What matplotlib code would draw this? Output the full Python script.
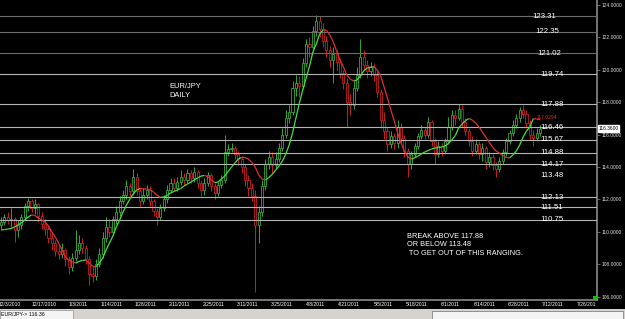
import matplotlib
matplotlib.use("Agg")
import matplotlib.pyplot as plt
from matplotlib.collections import LineCollection
from matplotlib.patches import Rectangle

plt.rcParams['font.family'] = ['Liberation Sans', 'DejaVu Sans']

# EUR/JPY daily candles
first_open = 110.4
closes = [110.6, 110.9, 110.7, 110.8, 110.1, 110.4, 110.9, 111.6, 111.9, 111.5,
          111.7, 111.0, 110.5, 110.2, 109.6, 109.3, 108.8, 108.6, 108.9, 108.3,
          107.8, 108.4, 108.9, 109.3, 109.0, 108.3, 107.4, 107.3, 108.0, 108.6,
          109.6, 110.3, 110.0, 110.8, 111.2, 111.9, 112.3, 112.8, 112.5, 113.4,
          112.5, 111.9, 112.3, 112.6, 111.9, 111.3, 110.9, 111.5, 112.0, 112.6,
          113.0, 112.7, 113.1, 113.4, 113.2, 113.6, 113.3, 113.7, 113.0, 112.6,
          113.0, 113.5, 112.8, 112.4, 112.9, 113.2, 114.9, 115.1, 115.2, 114.8,
          114.5, 114.0, 113.2, 112.7, 112.2, 110.4, 111.2, 112.8, 114.2, 114.6,
          114.1, 114.5, 115.2, 116.0, 117.0, 117.4, 118.9, 119.2, 119.0, 120.4,
          121.6, 121.4, 122.4, 123.0, 122.5, 121.8, 121.2, 120.6, 121.0, 120.5,
          119.8, 119.2, 118.0, 117.8, 118.9, 119.7, 120.8, 120.3, 119.9, 120.2,
          119.7, 118.6, 116.9, 116.2, 115.4, 115.9, 115.5, 116.5, 115.8, 115.0,
          114.2, 114.8, 115.3, 115.9, 116.3, 116.0, 116.8, 115.6, 114.8, 115.3,
          115.0, 115.6, 116.5, 117.2, 117.0, 117.6, 116.8, 116.2, 115.6, 115.0,
          115.4, 114.8, 115.2, 114.3, 114.6, 114.1, 113.9, 114.4, 114.9, 115.6,
          116.1, 116.6, 117.0, 117.5, 117.3, 116.7, 116.0, 115.8, 116.1, 116.36]
highs = [110.9, 111.1, 111.2, 111.5, 110.9, 110.7, 111.1, 111.8, 112.1, 112.0,
         112.0, 111.8, 111.2, 110.8, 110.4, 109.9, 109.5, 109.1, 109.3, 109.0,
         108.5, 108.7, 110.1, 109.8, 109.6, 109.2, 108.5, 107.9, 108.3, 109.0,
         110.0, 110.9, 110.8, 111.0, 111.6, 112.2, 112.6, 113.2, 113.0, 113.9,
         113.6, 112.7, 112.7, 112.9, 112.8, 112.0, 111.5, 111.7, 112.3, 112.9,
         113.3, 113.3, 113.4, 113.8, 113.6, 113.9, 113.8, 114.0, 113.8, 113.2,
         113.3, 113.7, 113.6, 113.0, 113.1, 113.5, 116.0, 115.4, 115.5, 115.3,
         115.0, 114.7, 114.2, 113.5, 113.0, 112.6, 111.6, 113.2, 114.5, 115.0,
         114.9, 114.9, 115.5, 116.4, 117.5, 117.8, 119.3, 119.7, 119.6, 120.7,
         121.9, 122.0, 122.7, 123.4, 123.35, 122.9, 122.1, 121.5, 121.4, 121.2,
         120.7, 120.0, 119.5, 118.5, 119.3, 120.2, 121.9, 121.2, 120.6, 120.5,
         120.4, 119.9, 118.8, 117.4, 116.5, 116.2, 116.1, 116.9, 116.7, 116.0,
         115.2, 115.0, 115.5, 116.1, 116.6, 116.5, 117.1, 116.9, 115.8, 115.6,
         115.5, 115.8, 117.1, 117.5, 117.5, 117.9, 117.8, 117.0, 116.4, 115.9,
         115.7, 115.6, 115.5, 115.3, 114.9, 114.8, 114.3, 114.6, 115.1, 115.8,
         116.3, 116.9, 117.3, 117.7, 117.8, 117.5, 116.9, 116.3, 116.4, 116.6]
lows = [110.2, 110.4, 110.5, 110.3, 109.4, 109.7, 110.2, 110.7, 111.3, 111.2,
        111.1, 110.6, 110.2, 109.8, 109.3, 108.9, 108.5, 108.3, 108.4, 107.9,
        107.4, 107.6, 108.2, 108.6, 108.7, 108.0, 106.7, 106.9, 107.0, 107.8,
        108.4, 109.4, 109.7, 109.8, 110.5, 111.0, 111.7, 112.0, 112.2, 112.3,
        112.3, 111.6, 111.7, 112.0, 111.6, 111.0, 110.4, 110.7, 111.3, 111.8,
        112.4, 112.5, 112.5, 112.9, 112.9, 113.0, 113.0, 113.1, 112.7, 112.2,
        112.3, 112.8, 112.5, 112.0, 112.2, 112.7, 113.0, 114.7, 114.9, 114.5,
        114.1, 113.6, 112.8, 112.2, 111.9, 106.3, 109.3, 111.0, 112.6, 113.9,
        113.6, 113.9, 114.3, 115.0, 115.8, 116.7, 117.2, 118.4, 118.3, 118.8,
        120.2, 120.8, 121.2, 122.1, 122.0, 121.4, 120.8, 120.2, 119.2, 120.0,
        119.5, 118.8, 116.5, 117.2, 117.6, 118.7, 119.5, 120.0, 119.5, 119.6,
        119.3, 118.3, 116.4, 115.7, 115.0, 115.2, 115.1, 115.2, 115.4, 114.6,
        113.4, 113.9, 114.6, 115.1, 115.7, 115.7, 115.8, 115.3, 114.2, 114.6,
        114.7, 114.8, 115.4, 116.3, 116.6, 116.9, 116.5, 115.9, 115.3, 114.7,
        114.8, 114.5, 114.4, 113.9, 114.0, 113.8, 113.4, 113.7, 114.2, 114.7,
        115.4, 115.9, 116.4, 116.8, 117.0, 116.4, 115.7, 115.3, 115.6, 115.9]
# smoothed moving average drawn over the candles
ma = [110.11, 110.14, 110.17, 110.20, 110.30, 110.42, 110.54, 110.73, 110.91, 111.04,
      111.01, 110.85, 110.73, 110.60, 110.36, 109.99, 109.68, 109.31, 108.88, 108.44,
      108.26, 108.14, 108.07, 108.17, 108.23, 108.26, 108.07, 107.89, 107.83, 108.07,
      108.38, 108.88, 109.31, 109.74, 110.30, 110.73, 111.22, 111.65, 112.02, 112.33,
      112.58, 112.67, 112.66, 112.64, 112.58, 112.46, 112.27, 112.12, 112.15, 112.24,
      112.40, 112.49, 112.58, 112.67, 112.83, 112.95, 113.07, 113.20, 113.32, 113.44,
      113.48, 113.41, 113.23, 113.04, 113.07, 113.26, 113.44, 113.72, 114.00, 114.25,
      114.49, 114.60, 114.59, 114.49, 114.28, 114.00, 113.51, 113.26, 113.20, 113.35,
      113.54, 113.81, 114.06, 114.37, 114.80, 115.36, 116.10, 117.02, 117.95, 118.75,
      119.49, 120.23, 121.10, 121.59, 122.21, 122.46, 122.44, 122.15, 121.72, 121.16,
      120.60, 120.17, 119.68, 119.43, 119.31, 119.37, 119.62, 119.93, 120.11, 120.17,
      120.18, 119.99, 119.62, 118.94, 118.26, 117.52, 116.84, 116.10, 115.48, 114.99,
      114.62, 114.49, 114.56, 114.68, 114.80, 114.93, 115.02, 115.11, 115.17, 115.20,
      115.23, 115.30, 115.45, 115.67, 115.94, 116.41, 116.65, 116.87, 116.99, 116.90,
      116.72, 116.47, 116.16, 115.85, 115.54, 115.23, 114.99, 114.86, 114.71, 114.59,
      114.56, 114.74, 114.99, 115.36, 115.85, 116.22, 116.47, 116.98, 116.96, 116.93]

levels = [123.31, 122.35, 121.02, 119.74, 117.88, 116.46, 115.67,
          114.88, 114.17, 113.48, 112.13, 111.51, 110.75]
date_labels = ["12/3/2010", "12/17/2010", "1/3/2011", "1/14/2011", "1/28/2011",
               "2/11/2011", "2/25/2011", "3/11/2011", "3/25/2011", "4/8/2011",
               "4/21/2011", "5/5/2011", "5/18/2011", "6/1/2011", "6/14/2011",
               "6/28/2011", "7/12/2011", "7/26/201"]
price_ticks = [124, 122, 120, 118, 116, 114, 112, 110, 108, 106]
last_price = 116.36
ma_label = "117.0294"

W, H = 625, 319
PX = 3.39  # pixels per bar

def bar_at(px):
    return (px - 1) / PX

fig = plt.figure(figsize=(W / 100, H / 100), dpi=100, facecolor='black')
ax = fig.add_axes([0, 19 / H, 597 / W, 300 / H], facecolor='black')
ax.set_xlim(bar_at(0), bar_at(597))
ax.set_ylim(105.79, 124.31)

GREEN, RED = '#34a834', '#c42020'
n = len(closes)
opens = [first_open] + closes[:-1]
xs = list(range(n))
cols = [GREEN if c >= o else RED for o, c in zip(opens, closes)]
ax.vlines(xs, lows, highs, colors=cols, lw=0.7, zorder=2)
ax.bar(xs, [c - o for o, c in zip(opens, closes)], bottom=opens, width=0.62,
       color='black', edgecolor=cols, linewidth=0.6, zorder=2.5)

# moving average, green while rising, red while falling
segs = [[(i, ma[i]), (i + 1, ma[i + 1])] for i in range(n - 1)]
seg_cols = ['#44e044' if ma[i + 1] >= ma[i] else '#e03030' for i in range(n - 1)]
ax.add_collection(LineCollection(segs, colors=seg_cols, linewidths=0.9, zorder=4))
ax.text(bar_at(537), ma[-1] + 0.12, ma_label, color='#e03030', fontsize=3.6,
        va='center', ha='left', zorder=5)

# horizontal support / resistance levels
label_px = [544.5, 547.5, 549.5] + [552] * 10
for k, lv in enumerate(levels):
    if lv != 113.48:
        lc = '#6c6c6c' if k < 3 else '#b4b4b4'
        ax.axhline(lv, color=lc, lw=0.8, zorder=3)
    ax.text(bar_at(label_px[k]), lv, f"{lv:.2f}", color='white', fontsize=5.6,
            ha='center', va='center', zorder=5)

fig.text(169 / W, 1 - 83 / H, "EUR/JPY\nDAILY", color='white', fontsize=5.4,
         va='top', ha='left', linespacing=1.35)
fig.text(407 / W, 1 - 233 / H,
         "BREAK ABOVE 117.88\nOR BELOW 113.48\n TO GET OUT OF THIS RANGING.",
         color='white', fontsize=5.3, va='top', ha='left', linespacing=1.3)

# axes styling
for s in ['top', 'left']:
    ax.spines[s].set_visible(False)
for s in ['right', 'bottom']:
    ax.spines[s].set_color('#8a8a8a')
    ax.spines[s].set_linewidth(1.2)
ax.yaxis.tick_right()
ax.set_yticks(price_ticks)
ax.set_yticklabels([f"{v:.4f}" for v in price_ticks])
ax.tick_params(axis='y', length=2, width=0.5, color='#8a8a8a', labelsize=3.5,
               labelcolor='#dddddd', pad=1.5)
ax.set_xticks([bar_at(10) + 10 * k for k in range(len(date_labels))])
ax.set_xticklabels(date_labels)
ax.tick_params(axis='x', length=0, labelsize=3.6, labelcolor='white', pad=1.6)

# current price box on the right scale
fig.text(598.5 / W, 1 - (5 + (124 - last_price) * 16.2) / H, f"{last_price:.4f}",
         color='black', fontsize=3.5, va='center', ha='left',
         bbox=dict(facecolor='white', edgecolor='white', pad=0.6))

# status bar at the bottom
fig.patches.append(Rectangle((0, 0), 1, 10 / H, transform=fig.transFigure,
                             facecolor='#d6d3ce', edgecolor='none'))
fig.patches.append(Rectangle((0, 0), 73 / W, 9 / H, transform=fig.transFigure,
                             facecolor='#f4f4f4', edgecolor='#909090', lw=0.5))
fig.patches.append(Rectangle((432 / W, 0), 191 / W, 8 / H, transform=fig.transFigure,
                             facecolor='#f4f4f4', edgecolor='#707070', lw=0.5))
fig.text(1 / W, 4.5 / H, f"EUR/JPY-> {last_price:.2f}", color='black', fontsize=3.8,
         va='center', ha='left')
fig.patches.append(Rectangle((593 / W, 19 / H), 4 / W, 4 / H, transform=fig.transFigure,
                             facecolor='#10c010', edgecolor='none'))

fig.savefig('out.png', dpi=100, facecolor='black')
